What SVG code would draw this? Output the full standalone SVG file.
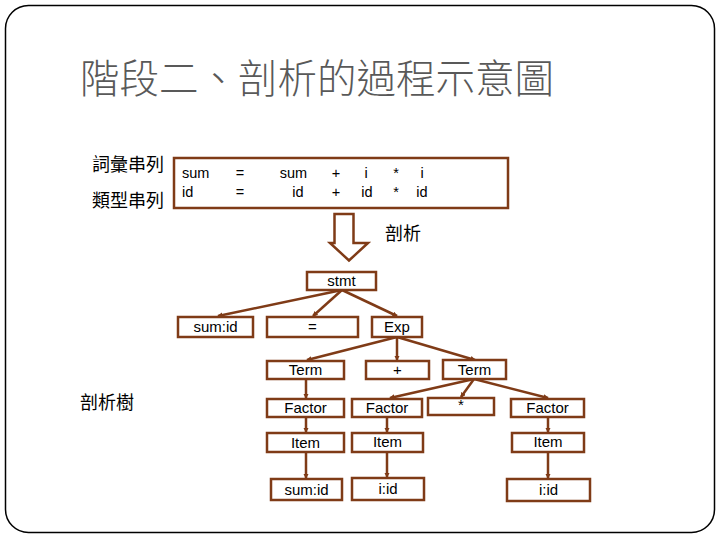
<svg xmlns="http://www.w3.org/2000/svg" width="720" height="540" viewBox="0 0 720 540">
<style>
.box{fill:#fff;stroke:#7f3b17;stroke-width:2.5}
.t{font-family:"Liberation Sans",Arial,sans-serif;font-size:15px;fill:#000;text-anchor:middle}
.tk{font-family:"Liberation Sans",Arial,sans-serif;font-size:14.5px;fill:#000;text-anchor:middle}
.cjk{font-family:"Noto Sans CJK TC","Noto Sans CJK SC",sans-serif;fill:#000;font-size:18px}
.edge{stroke:#7f3b17;stroke-width:2.5;fill:none;marker-end:url(#ah)}
</style>
<defs>
<marker id="ah" markerUnits="userSpaceOnUse" markerWidth="7" markerHeight="7" refX="4.5" refY="2.75" orient="auto">
<path d="M0,0 L5.5,2.75 L0,5.5 Z" fill="#7f3b17"/>
</marker>
</defs>
<rect x="0" y="0" width="720" height="540" fill="#fff"/>
<rect x="5.5" y="5.5" width="709" height="527" rx="23" ry="23" fill="none" stroke="#000" stroke-width="1.5"/>
<text x="80" y="93" font-family="Noto Sans CJK TC,Noto Sans CJK SC,sans-serif" font-size="39.5" font-weight="300" fill="#595959">階段二、剖析的過程示意圖</text>

<g id="labels">
<text class="cjk" x="92" y="171">詞彙串列</text>
<text class="cjk" x="92" y="207">類型串列</text>
<text class="cjk" x="385" y="240">剖析</text>
<text class="cjk" x="80" y="409">剖析樹</text>
</g>

<g id="tokens">
<rect class="box" x="174" y="158" width="334" height="50"/>
<text class="tk" x="182" y="178" style="text-anchor:start">sum</text>
<text class="tk" x="240" y="178">=</text>
<text class="tk" x="293.5" y="178">sum</text>
<text class="tk" x="336" y="178">+</text>
<text class="tk" x="366" y="178">i</text>
<text class="tk" x="396" y="178">*</text>
<text class="tk" x="422" y="178">i</text>
<text class="tk" x="182" y="197" style="text-anchor:start">id</text>
<text class="tk" x="240" y="197">=</text>
<text class="tk" x="298" y="197">id</text>
<text class="tk" x="336" y="197">+</text>
<text class="tk" x="367" y="197">id</text>
<text class="tk" x="396" y="197">*</text>
<text class="tk" x="422" y="197">id</text>
</g>

<g id="arrow">
<path d="M334.5,214 L353.5,214 L353.5,243 L368,243 L349,260.5 L330,243 L334.5,243 Z" fill="#fff" stroke="#7f3b17" stroke-width="2.5" stroke-linejoin="miter"/>
</g>

<g id="connectors">
<line class="edge" x1="342" y1="290" x2="218" y2="316"/>
<line class="edge" x1="342" y1="290" x2="313" y2="316"/>
<line class="edge" x1="342" y1="290" x2="397" y2="316"/>
<line class="edge" x1="397" y1="337" x2="307" y2="360"/>
<line class="edge" x1="397" y1="337" x2="397" y2="360"/>
<line class="edge" x1="397" y1="337" x2="475" y2="360"/>
<line class="edge" x1="474" y1="379" x2="390" y2="398"/>
<line class="edge" x1="474" y1="379" x2="461" y2="397"/>
<line class="edge" x1="474" y1="379" x2="548" y2="398"/>
<line class="edge" x1="306" y1="379" x2="306" y2="398"/>
<line class="edge" x1="306" y1="417" x2="306" y2="432"/>
<line class="edge" x1="306" y1="452" x2="306" y2="478"/>
<line class="edge" x1="387" y1="417" x2="387" y2="432"/>
<line class="edge" x1="387" y1="452" x2="387" y2="477"/>
<line class="edge" x1="548" y1="417" x2="548" y2="432"/>
<line class="edge" x1="548" y1="452" x2="548" y2="478"/>
</g>

<g id="n-stmt"><rect class="box" x="307" y="272" width="69" height="18"/><text class="t" x="341.5" y="286">stmt</text></g>
<g id="n-sumid"><rect class="box" x="178" y="317" width="75" height="20"/><text class="t" x="215.5" y="332">sum:id</text></g>
<g id="n-eq"><rect class="box" x="267" y="317" width="91" height="20"/><text class="t" x="312.5" y="332">=</text></g>
<g id="n-exp"><rect class="box" x="372" y="317" width="50" height="20"/><text class="t" x="397" y="332">Exp</text></g>
<g id="n-term1"><rect class="box" x="267" y="361" width="77" height="18"/><text class="t" x="305.5" y="375">Term</text></g>
<g id="n-plus"><rect class="box" x="366" y="361" width="63" height="18"/><text class="t" x="397.5" y="375">+</text></g>
<g id="n-term2"><rect class="box" x="443" y="360" width="63" height="19"/><text class="t" x="474.5" y="375">Term</text></g>
<g id="n-factor1"><rect class="box" x="267" y="399" width="77" height="18"/><text class="t" x="305.5" y="413">Factor</text></g>
<g id="n-factor2"><rect class="box" x="352" y="399" width="70" height="18"/><text class="t" x="387" y="413">Factor</text></g>
<g id="n-star"><rect class="box" x="428" y="398" width="66" height="17"/><text class="t" x="461" y="410">*</text></g>
<g id="n-factor3"><rect class="box" x="511" y="399" width="73" height="18"/><text class="t" x="547.5" y="413">Factor</text></g>
<g id="n-item1"><rect class="box" x="267" y="433" width="77" height="19"/><text class="t" x="305.5" y="448">Item</text></g>
<g id="n-item2"><rect class="box" x="352" y="433" width="71" height="19"/><text class="t" x="387.5" y="447">Item</text></g>
<g id="n-item3"><rect class="box" x="512" y="433" width="72" height="19"/><text class="t" x="548" y="447">Item</text></g>
<g id="n-sumid2"><rect class="box" x="271" y="479" width="71" height="21"/><text class="t" x="306.5" y="495">sum:id</text></g>
<g id="n-iid1"><rect class="box" x="352" y="478" width="72" height="22"/><text class="t" x="388" y="494">i:id</text></g>
<g id="n-iid2"><rect class="box" x="507" y="479" width="83" height="22"/><text class="t" x="548.5" y="495">i:id</text></g>
</svg>
